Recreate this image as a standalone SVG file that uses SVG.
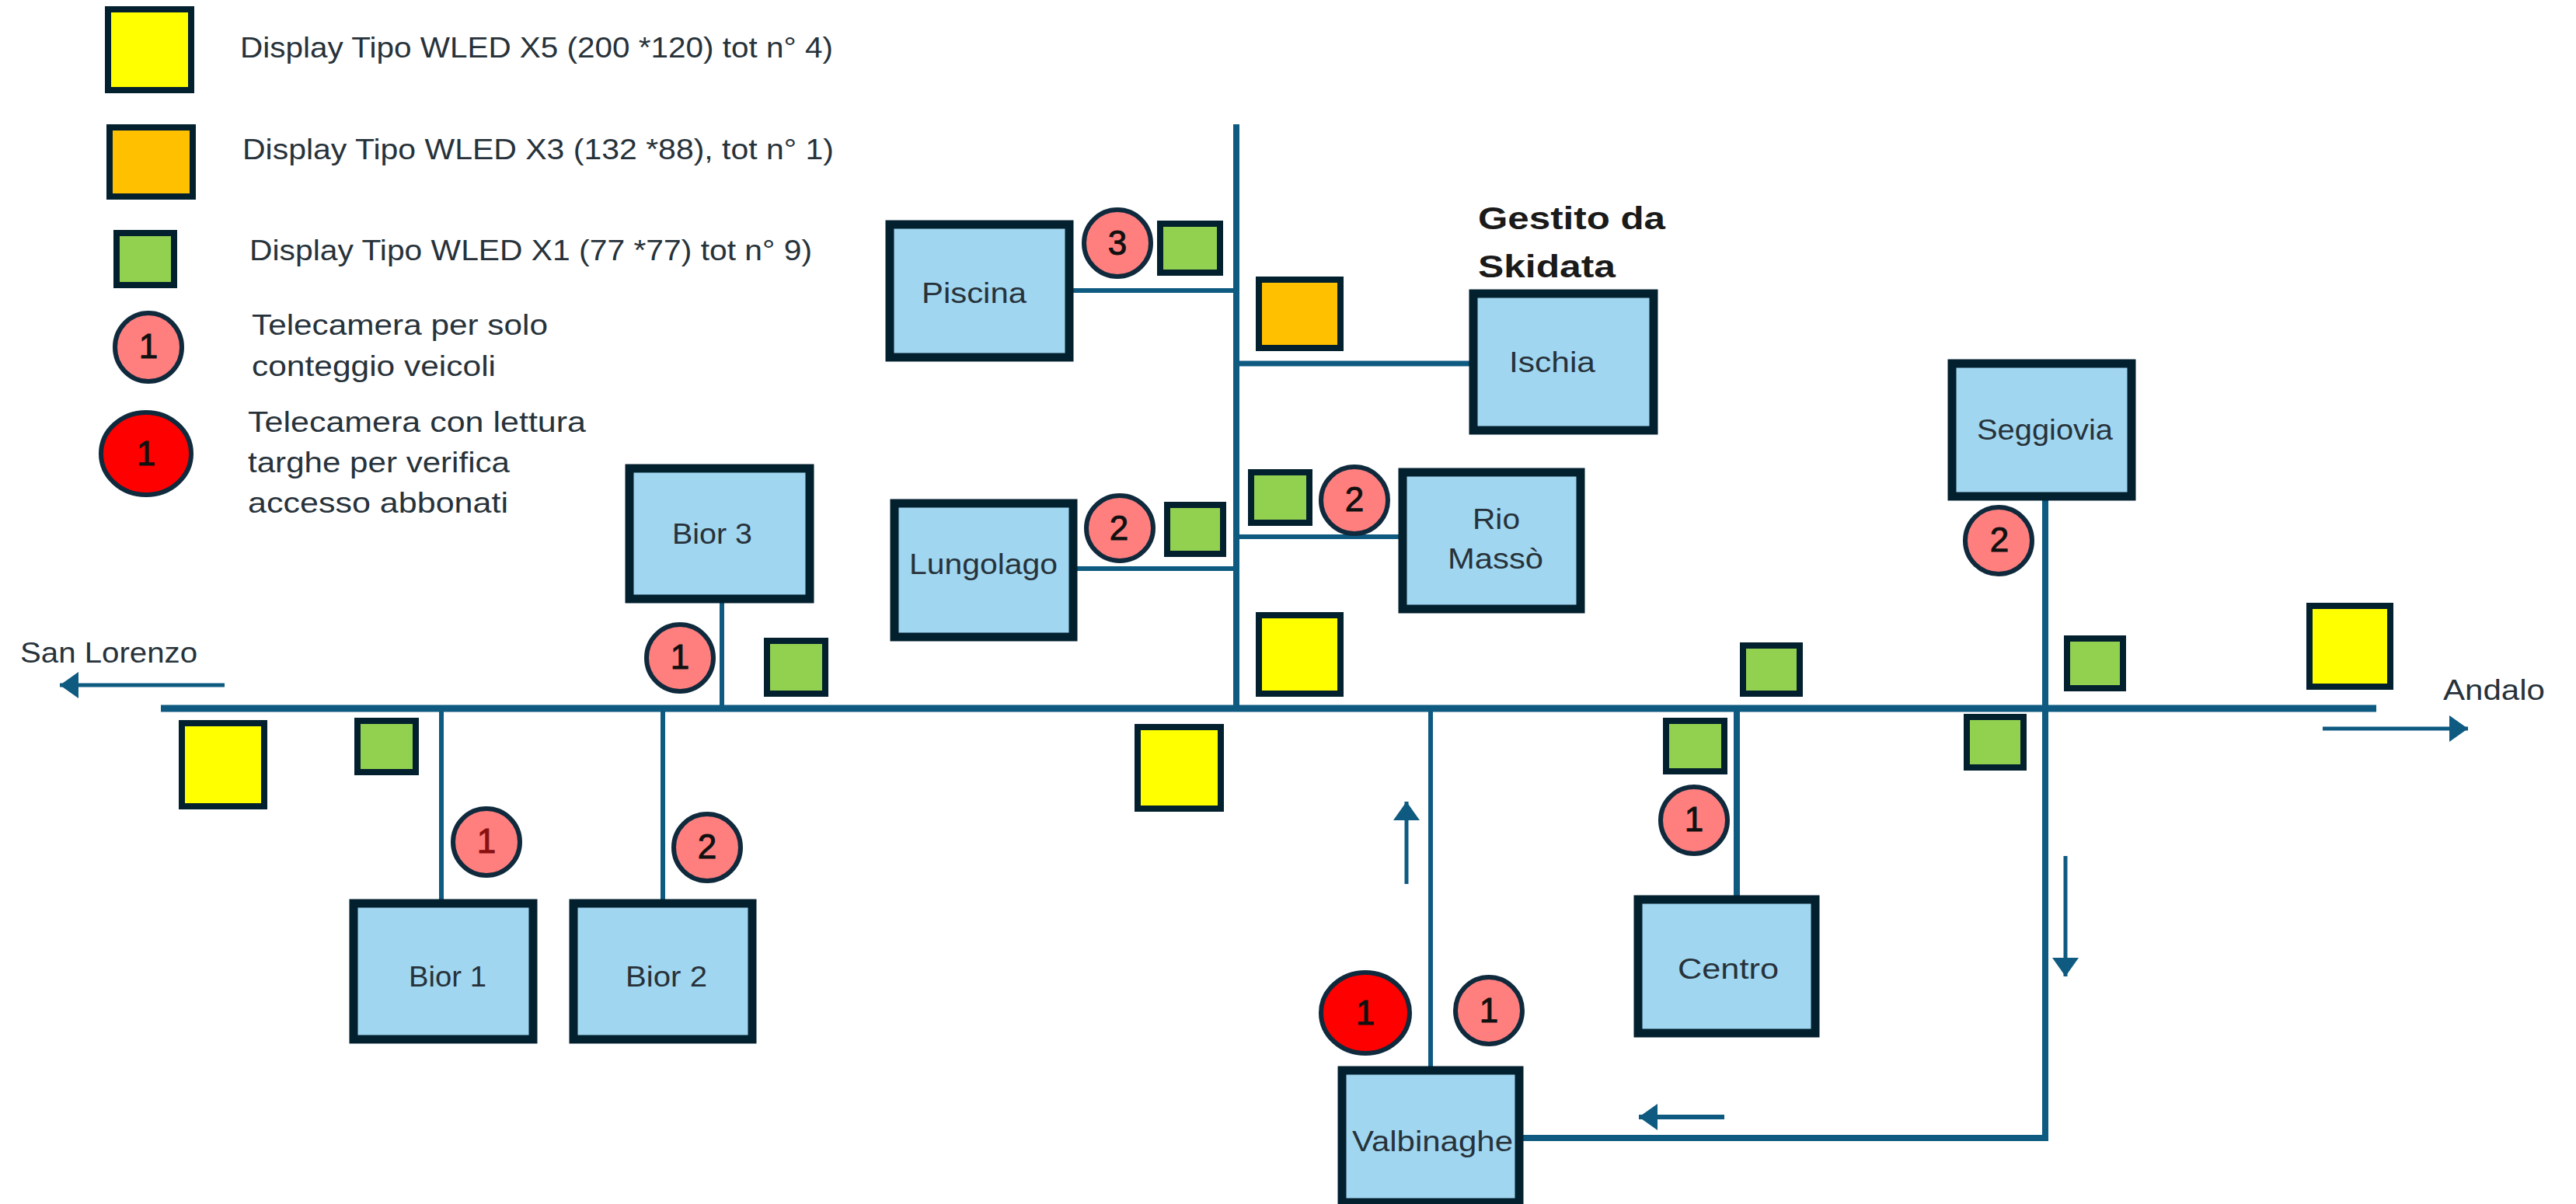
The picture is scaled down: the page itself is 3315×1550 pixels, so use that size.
<svg xmlns="http://www.w3.org/2000/svg" width="3315" height="1550" viewBox="0 0 3315 1550">
<style>
text{font-family:"Liberation Sans","Noto Sans",sans-serif;fill:#27323a}
.t{font-size:37px}
.n{font-size:37px}
.h{font-size:41px;font-weight:700;fill:#1a1a1a}
.d{font-size:44px;text-anchor:middle;fill:#111;stroke:#111;stroke-width:1}
.box{fill:#a0d6f0;stroke:#03202f;stroke-width:11}
.y,.o,.g{stroke:#03202f;stroke-width:8}
.y{fill:#ffff00}.o{fill:#ffc000}.g{fill:#92d050}
.p,.r{stroke:#0f2a3c;stroke-width:6}
.p{fill:#ff7f7f}.r{fill:#ff0000}
.l{stroke:#0f5a80;fill:none}
.w5{stroke-width:5}.w6{stroke-width:6}.w7{stroke-width:7}.w8{stroke-width:8}.w10{stroke-width:9}
</style>
<defs>
<marker id="ah" markerUnits="userSpaceOnUse" markerWidth="26" markerHeight="34" refX="24" refY="17" orient="auto">
<path d="M0,0L24,17L0,34Z" fill="#0f5a80"/>
</marker>
</defs>
<rect width="3315" height="1550" fill="#ffffff"/>
<g id="connectors">
<path class="l w10" d="M207,912H3058"/>
<path class="l w8" d="M1591,160V912"/>
<path class="l w6" d="M1381,374H1591"/>
<path class="l w7" d="M1591,468H1891"/>
<path class="l w6" d="M1591,691H1800"/>
<path class="l w6" d="M1386,732H1591"/>
<path class="l w6" d="M568,912V1161"/>
<path class="l w6" d="M853,912V1161"/>
<path class="l w6" d="M929,776V912"/>
<path class="l w6" d="M1841,912V1377"/>
<path class="l w8" d="M2235,912V1153"/>
<path class="l w8" d="M2632,644V1465H1960"/>
<path class="l w5" marker-end="url(#ah)" d="M289,882H77"/>
<path class="l w5" marker-end="url(#ah)" d="M2989,938H3176"/>
<path class="l w5" marker-end="url(#ah)" d="M1810,1138V1032"/>
<path class="l w5" marker-end="url(#ah)" d="M2658,1102V1257"/>
<path class="l w6" marker-end="url(#ah)" d="M2219,1438H2109"/>
</g>
<g id="legend-x5"><rect class="y" x="139" y="12" width="107" height="104"/><text class="t" x="309" y="74" textLength="763" lengthAdjust="spacingAndGlyphs">Display Tipo WLED X5 (200 *120) tot n° 4)</text></g>
<g id="legend-x3"><rect class="o" x="141" y="164" width="107" height="89"/><text class="t" x="312" y="205" textLength="761" lengthAdjust="spacingAndGlyphs">Display Tipo WLED X3 (132 *88), tot n° 1)</text></g>
<g id="legend-x1"><rect class="g" x="150" y="300" width="74" height="67"/><text class="t" x="321" y="335" textLength="724" lengthAdjust="spacingAndGlyphs">Display Tipo WLED X1 (77 *77) tot n° 9)</text></g>
<g id="legend-cam"><ellipse class="p" cx="191" cy="447" rx="43" ry="44"/><text class="d" x="191" y="461">1</text>
<text class="t" x="324" y="431" textLength="381" lengthAdjust="spacingAndGlyphs">Telecamera per solo</text><text class="t" x="324" y="484" textLength="314" lengthAdjust="spacingAndGlyphs">conteggio veicoli</text></g>
<g id="legend-cam-plate"><ellipse class="r" cx="188" cy="584" rx="58" ry="53"/><text class="d" x="188" y="599">1</text>
<text class="t" x="319" y="556" textLength="435" lengthAdjust="spacingAndGlyphs">Telecamera con lettura</text><text class="t" x="319" y="608" textLength="337" lengthAdjust="spacingAndGlyphs">targhe per verifica</text><text class="t" x="319" y="660" textLength="335" lengthAdjust="spacingAndGlyphs">accesso abbonati</text></g>

<g id="san-lorenzo"><text class="t" x="26" y="853" textLength="228" lengthAdjust="spacingAndGlyphs">San Lorenzo</text></g>
<g id="andalo"><text class="t" x="3144" y="901" textLength="131" lengthAdjust="spacingAndGlyphs">Andalo</text></g>
<g id="gestito"><text class="h" x="1902" y="295" textLength="241" lengthAdjust="spacingAndGlyphs">Gestito da</text><text class="h" x="1902" y="357" textLength="177" lengthAdjust="spacingAndGlyphs">Skidata</text></g>

<g id="bior3"><rect class="box" x="810" y="603" width="232" height="168"/><text class="n" x="865" y="700" textLength="103" lengthAdjust="spacingAndGlyphs">Bior 3</text></g>
<g id="bior1"><rect class="box" x="455" y="1163" width="231" height="175"/><text class="n" x="526" y="1270" textLength="100" lengthAdjust="spacingAndGlyphs">Bior 1</text></g>
<g id="bior2"><rect class="box" x="738" y="1163" width="230" height="175"/><text class="n" x="805" y="1270" textLength="105" lengthAdjust="spacingAndGlyphs">Bior 2</text></g>
<g id="piscina"><rect class="box" x="1145" y="289" width="231" height="171"/><text class="n" x="1186" y="390" textLength="135" lengthAdjust="spacingAndGlyphs">Piscina</text></g>
<g id="ischia"><rect class="box" x="1896" y="378" width="232" height="176"/><text class="n" x="1942" y="479" textLength="111" lengthAdjust="spacingAndGlyphs">Ischia</text></g>
<g id="rio-masso"><rect class="box" x="1805" y="608" width="229" height="176"/><text class="n" x="1895" y="681" textLength="61" lengthAdjust="spacingAndGlyphs">Rio</text><text class="n" x="1863" y="732" textLength="123" lengthAdjust="spacingAndGlyphs">Massò</text></g>
<g id="lungolago"><rect class="box" x="1151" y="648" width="230" height="172"/><text class="n" x="1170" y="739" textLength="191" lengthAdjust="spacingAndGlyphs">Lungolago</text></g>
<g id="seggiovia"><rect class="box" x="2512" y="468" width="231" height="171"/><text class="n" x="2544" y="566" textLength="175" lengthAdjust="spacingAndGlyphs">Seggiovia</text></g>
<g id="centro"><rect class="box" x="2108" y="1158" width="228" height="172"/><text class="n" x="2159" y="1260" textLength="130" lengthAdjust="spacingAndGlyphs">Centro</text></g>
<g id="valbinaghe"><rect class="box" x="1727" y="1378" width="228" height="170"/><text class="n" x="1740" y="1482" textLength="207" lengthAdjust="spacingAndGlyphs">Valbinaghe</text></g>

<g id="display-y1"><rect class="y" x="234" y="931" width="106" height="107"/></g>
<g id="display-y2"><rect class="y" x="1464" y="936" width="107" height="105"/></g>
<g id="display-y3"><rect class="y" x="1620" y="792" width="105" height="101"/></g>
<g id="display-y4"><rect class="y" x="2972" y="780" width="104" height="104"/></g>
<g id="display-o1"><rect class="o" x="1620" y="360" width="105" height="88"/></g>
<g id="display-g1"><rect class="g" x="460" y="928" width="75" height="66"/></g>
<g id="display-g2"><rect class="g" x="987" y="825" width="75" height="68"/></g>
<g id="display-g3"><rect class="g" x="1493" y="288" width="77" height="63"/></g>
<g id="display-g4"><rect class="g" x="1502" y="650" width="72" height="63"/></g>
<g id="display-g5"><rect class="g" x="1610" y="608" width="75" height="65"/></g>
<g id="display-g6"><rect class="g" x="2144" y="928" width="75" height="65"/></g>
<g id="display-g7"><rect class="g" x="2243" y="831" width="73" height="62"/></g>
<g id="display-g8"><rect class="g" x="2531" y="923" width="73" height="65"/></g>
<g id="display-g9"><rect class="g" x="2660" y="822" width="72" height="64"/></g>

<g id="cam-bior3"><ellipse class="p" cx="875" cy="847" rx="43" ry="43"/><text class="d" x="875" y="861">1</text></g>
<g id="cam-bior1"><ellipse class="p" cx="626" cy="1084" rx="43" ry="43"/><text class="d" x="626" y="1098" style="fill:#8a1010;stroke:#8a1010">1</text></g>
<g id="cam-bior2"><ellipse class="p" cx="910" cy="1091" rx="43" ry="43"/><text class="d" x="910" y="1105">2</text></g>
<g id="cam-piscina"><ellipse class="p" cx="1438" cy="313" rx="43" ry="43"/><text class="d" x="1438" y="328">3</text></g>
<g id="cam-lungolago"><ellipse class="p" cx="1441" cy="680" rx="43" ry="42"/><text class="d" x="1440" y="695">2</text></g>
<g id="cam-rio"><ellipse class="p" cx="1743" cy="644" rx="43" ry="43"/><text class="d" x="1743" y="658">2</text></g>
<g id="cam-seggiovia"><ellipse class="p" cx="2572" cy="696" rx="43" ry="43"/><text class="d" x="2573" y="710">2</text></g>
<g id="cam-centro"><ellipse class="p" cx="2180" cy="1056" rx="43" ry="43"/><text class="d" x="2180" y="1070">1</text></g>
<g id="cam-valbinaghe"><ellipse class="p" cx="1916" cy="1301" rx="43" ry="43"/><text class="d" x="1916" y="1316">1</text></g>
<g id="cam-valbinaghe-plate"><ellipse class="r" cx="1757" cy="1304" rx="57" ry="52"/><text class="d" x="1757" y="1319">1</text></g>
</svg>
